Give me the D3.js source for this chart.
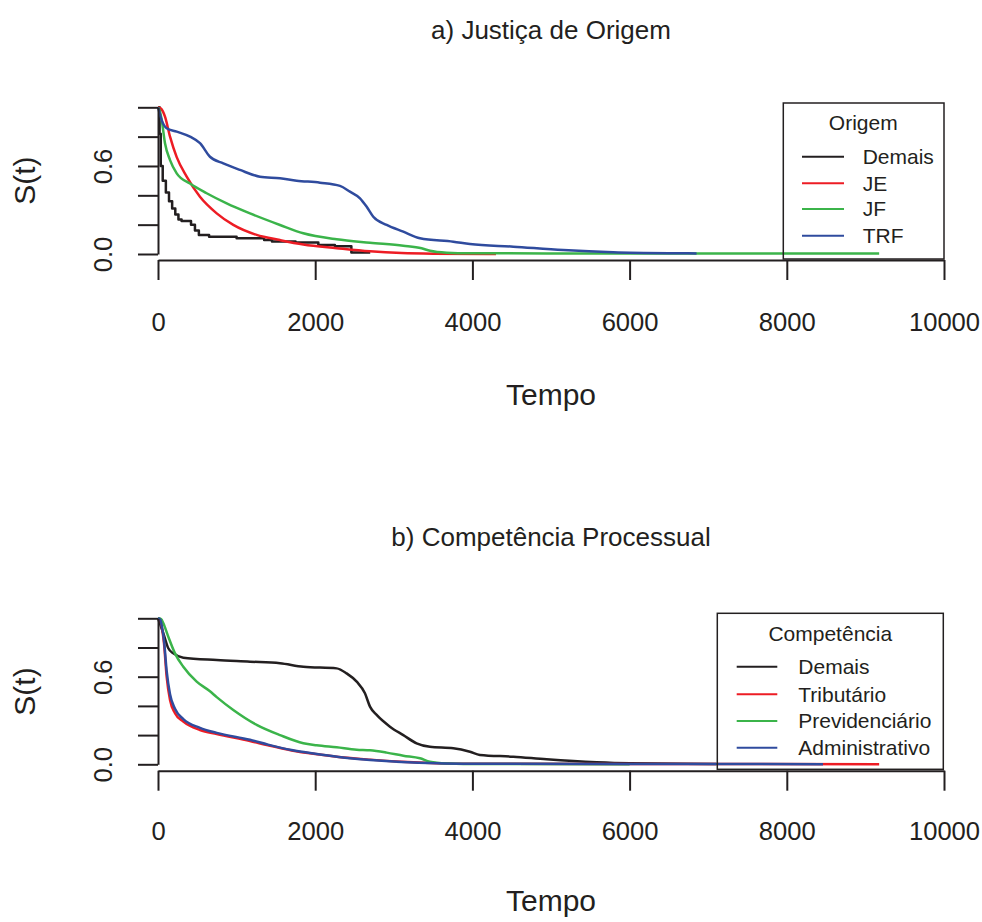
<!DOCTYPE html>
<html lang="pt">
<head>
<meta charset="UTF-8">
<title>Curvas de sobrevivência</title>
<script src="https://d3js.org/d3.v7.min.js"></script>
<style>
  body { margin: 0; background: #fff; }
  svg { display: block; }
  text { font-family: "Liberation Sans", Arial, Helvetica, sans-serif; fill: #231f20; }
  .axis path, .axis line { stroke: #231f20; stroke-width: 2px; }
  .curve { fill: none; stroke-width: 2.5px; stroke-linejoin: round; }
</style>
</head>
<body>
<script>
// --- data: [tempo, S(t)] ---
const origemDemais = [[0,1],[20,0.82],[35,0.6],[60,0.5],[100,0.42],[140,0.36],[180,0.31],[220,0.27],[260,0.235],
  [300,0.225],[420,0.2],[470,0.16],[520,0.13],[650,0.118],[1000,0.108],[1350,0.095],[1450,0.085],[1750,0.078],
  [2040,0.062],[2250,0.052],[2460,0.01],[2700,0.01]];
const origemJE = [[0,1],[40,0.99],[89,0.936],[153,0.8],[238,0.66],[365,0.527],[534,0.39],[747,0.277],[958,0.198],
  [1255,0.13],[1552,0.095],[1849,0.065],[2273,0.04],[2697,0.018],[3100,0.006],[3500,0.002],[4300,0]];
const origemJF = [[0,1],[25,0.97],[47,0.913],[89,0.755],[153,0.64],[238,0.55],[407,0.48],[619,0.414],[874,0.345],
  [1170,0.277],[1552,0.198],[1849,0.141],[2273,0.1],[2697,0.077],[3121,0.057],[3354,0.039],[3460,0.022],
  [3672,0.009],[3969,0.005],[5000,0.004],[9175,0.003]];
const origemTRF = [[0,1],[47,0.913],[110,0.857],[238,0.834],[407,0.8],[534,0.755],[661,0.663],[831,0.618],
  [1043,0.573],[1297,0.527],[1552,0.516],[1764,0.5],[2061,0.486],[2315,0.464],[2442,0.425],[2570,0.38],
  [2655,0.322],[2739,0.254],[2909,0.198],[3121,0.152],[3333,0.107],[3757,0.084],[3969,0.068],[4520,0.05],
  [5156,0.027],[5791,0.012],[6640,0.005],[6852,0.004]];

const compDemais = [[0,1],[68,0.897],[131,0.795],[195,0.76],[322,0.73],[747,0.714],[1170,0.703],[1552,0.692],
  [1849,0.668],[2273,0.657],[2400,0.623],[2528,0.566],[2633,0.486],[2697,0.395],[2782,0.338],[2951,0.258],
  [3121,0.2],[3290,0.144],[3460,0.12],[3757,0.11],[3969,0.086],[4096,0.064],[4520,0.052],[4944,0.034],
  [5580,0.014],[6004,0.007],[7100,0.002]];
const compTributario = [[0,1],[30,0.99],[47,0.943],[76,0.83],[110,0.6],[153,0.44],[216,0.35],[322,0.292],
  [534,0.235],[747,0.207],[1170,0.16],[1400,0.13],[1700,0.095],[2000,0.07],[2300,0.05],[2700,0.032],
  [3100,0.018],[3545,0.008],[4000,0.004],[6000,0.002],[9175,0.001]];
const compPrevidenciario = [[0,1],[40,0.995],[68,0.966],[131,0.874],[216,0.76],[322,0.668],[492,0.566],
  [661,0.5],[747,0.46],[958,0.372],[1255,0.27],[1552,0.2],[1849,0.144],[2018,0.13],[2273,0.116],[2528,0.1],
  [2697,0.096],[2909,0.08],[3121,0.059],[3333,0.041],[3460,0.018],[3700,0.005],[3884,0.002],[6000,0.001]];
const compAdministrativo = [[0,1],[30,0.99],[47,0.95],[76,0.85],[110,0.64],[153,0.48],[216,0.38],[322,0.31],
  [534,0.25],[747,0.215],[1170,0.168],[1400,0.135],[1700,0.098],[2000,0.072],[2300,0.05],[2700,0.03],
  [3100,0.016],[3545,0.007],[4000,0.004],[6000,0.002],[8460,0.001]];

const xTicks = [0, 2000, 4000, 6000, 8000, 10000];
const yTicks = [0, 0.2, 0.4, 0.6, 0.8, 1.0];
const yTickLabelled = [0, 0.6];

const titles = ["a) Justiça de Origem", "b) Competência Processual"];
const legendTitles = ["Origem", "Competência"];
const seriesNames = [["Demais", "JE", "JF", "TRF"],
                     ["Demais", "Tributário", "Previdenciário", "Administrativo"]];
const seriesData = [[origemDemais, origemJE, origemJF, origemTRF],
                    [compDemais, compTributario, compPrevidenciario, compAdministrativo]];
const stepped = [[true, false, false, false], [false, false, false, false]];
const seriesColors = ["#231f20", "#ed1c24", "#3bb44a", "#2f4b9e"];

// --- layout (pixels) ---
const W = 982, H = 922;
const xLeft = 158, xRight = 944;
const layout = [
  { y0: 254, y1: 107.3, axisY: 260, tickBase: 331, labBase: 405, titleBase: 39, ylab: 180.6,
    leg: { x: 783.3, y: 103, w: 160.7, h: 156, tx: 863.3, ty: 123, l0: 802, l1: 844, txt: 862.7,
           items: [156.7, 183.3, 209, 235.7] } },
  { y0: 764.3, y1: 618.3, axisY: 770.7, tickBase: 840, labBase: 911, titleBase: 546, ylab: 691.5,
    leg: { x: 717.3, y: 613.3, w: 226, h: 156, tx: 830.3, ty: 633.3, l0: 736.7, l1: 777.3, txt: 798.3,
           items: [666.7, 694.3, 721, 747.7] } }
];

const svg = d3.select("body").append("svg")
  .attr("width", W)
  .attr("height", H);

const x = d3.scaleLinear().domain([0, 10000]).range([xLeft, xRight]);

layout.forEach((L, p) => {
  const y = d3.scaleLinear().domain([0, 1]).range([L.y0, L.y1]);
  const g = svg.append("g");

  // title
  g.append("text")
    .attr("x", (xLeft + xRight) / 2)
    .attr("y", L.titleBase)
    .attr("text-anchor", "middle")
    .style("font-size", "26px")
    .text(titles[p]);

  // curves
  seriesData[p].forEach((d, i) => {
    const line = d3.line()
      .x(v => x(v[0]))
      .y(v => y(v[1]))
      .curve(stepped[p][i] ? d3.curveStepAfter : d3.curveMonotoneX);
    g.append("path")
      .attr("class", "curve")
      .attr("d", line(d))
      .attr("stroke", seriesColors[i]);
  });

  // x axis
  const xAxis = g.append("g")
    .attr("class", "axis")
    .attr("transform", `translate(0,${L.axisY})`)
    .call(d3.axisBottom(x).tickValues(xTicks).tickSize(20).tickSizeOuter(0).tickFormat(d3.format("d")));
  xAxis.selectAll("text")
    .attr("y", L.tickBase - L.axisY)
    .attr("dy", 0)
    .style("font-size", "25.6px");

  // y axis
  const yAxis = g.append("g")
    .attr("class", "axis")
    .attr("transform", `translate(${xLeft},0)`)
    .call(d3.axisLeft(y).tickValues(yTicks).tickSize(20).tickSizeOuter(0)
      .tickFormat(v => yTickLabelled.includes(v) ? d3.format(".1f")(v) : ""));
  yAxis.selectAll("text")
    .attr("transform", "rotate(-90)")
    .attr("x", 0)
    .attr("y", -46)
    .attr("dy", 0)
    .attr("text-anchor", "middle")
    .style("font-size", "25.6px");

  g.selectAll(".axis text").style("fill", "#231f20").attr("fill", null);

  // axis titles
  g.append("text")
    .attr("x", (xLeft + xRight) / 2)
    .attr("y", L.labBase)
    .attr("text-anchor", "middle")
    .style("font-size", "30px")
    .text("Tempo");

  g.append("text")
    .attr("transform", `translate(35,${L.ylab}) rotate(-90)`)
    .attr("text-anchor", "middle")
    .style("font-size", "30px")
    .text("S(t)");

  // legend
  const lg = g.append("g");
  lg.append("rect")
    .attr("x", L.leg.x).attr("y", L.leg.y)
    .attr("width", L.leg.w).attr("height", L.leg.h)
    .attr("fill", "none")
    .attr("stroke", "#231f20")
    .attr("stroke-width", 1.5);
  lg.append("text")
    .attr("x", L.leg.tx).attr("y", L.leg.ty)
    .attr("dy", "0.35em")
    .attr("text-anchor", "middle")
    .style("font-size", "21px")
    .text(legendTitles[p]);
  seriesNames[p].forEach((name, i) => {
    const yy = L.leg.items[i];
    lg.append("line")
      .attr("x1", L.leg.l0).attr("x2", L.leg.l1)
      .attr("y1", yy).attr("y2", yy)
      .attr("stroke", seriesColors[i])
      .attr("stroke-width", 2);
    lg.append("text")
      .attr("x", L.leg.txt).attr("y", yy)
      .attr("dy", "0.35em")
      .style("font-size", "21px")
      .text(name);
  });
});
</script>
</body>
</html>
